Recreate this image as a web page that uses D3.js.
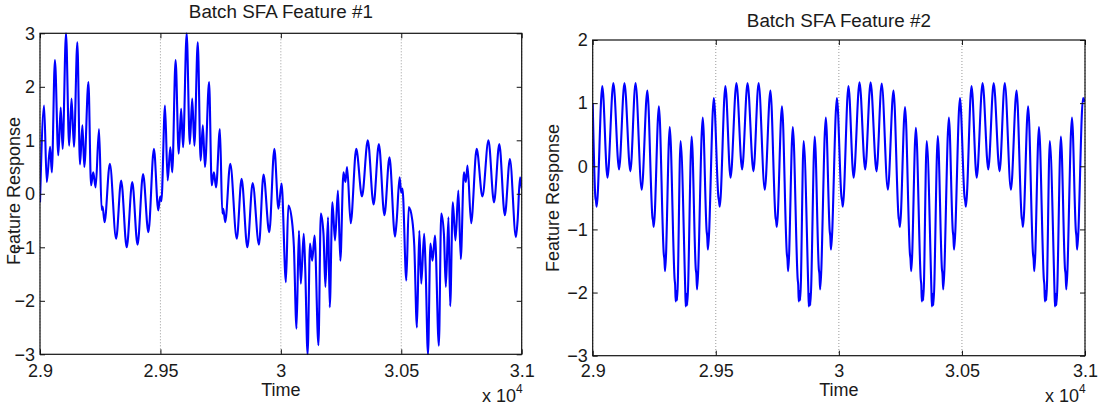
<!DOCTYPE html>
<html>
<head>
<meta charset="utf-8">
<script src="https://cdn.jsdelivr.net/npm/d3@7"></script>
<style>
  body { margin: 0; background: #fff; }
  svg { display: block; }
</style>
</head>
<body>
<svg id="chart" width="1099" height="406"></svg>
<script>
// time axis ticks (raw units, shown as x 10^4)
var timeTicks = [29000, 29500, 30000, 30500, 31000];
var f1Ticks = [-3, -2, -1, 0, 1, 2, 3];
var f2Ticks = [-3, -2, -1, 0, 1, 2];

// Feature #1
var f1Time = [
  29000, 29017, 29028, 29042, 29049, 29062, 29076, 29086, 29094, 29108,
  29121, 29131, 29141, 29155, 29166, 29176, 29184, 29201, 29212, 29221,
  29231, 29245, 29256, 29260, 29268, 29290, 29316, 29337, 29360, 29383,
  29405, 29428, 29450, 29473, 29491, 29499, 29504,
  29519, 29530, 29541, 29549, 29563, 29576, 29586, 29594, 29609, 29622,
  29632, 29641, 29655, 29667, 29676, 29685, 29702, 29713, 29722, 29731,
  29747, 29757, 29761, 29769, 29790, 29817, 29837, 29861, 29883, 29909,
  29928, 29952, 29973, 29990, 30003,
  30021, 30031, 30046, 30054, 30065, 30075, 30083, 30095, 30101, 30111,
  30121, 30130, 30140, 30156, 30166, 30177, 30185, 30196, 30203, 30214,
  30225, 30237, 30247, 30260, 30268, 30275, 30290, 30313, 30337, 30361,
  30385, 30407, 30430, 30451, 30474, 30481, 30493, 30500, 30505,
  30521, 30531, 30546, 30554, 30565, 30575, 30583, 30595, 30601, 30611,
  30621, 30630, 30640, 30656, 30666, 30677, 30685, 30696, 30703, 30714,
  30725, 30737, 30747, 30760, 30768, 30775, 30790, 30813, 30837, 30862,
  30885, 30907, 30930, 30951, 30976, 30983, 30993, 31000
];
var f1Resp = [
  -0.16, 1.65, 0.22, 0.88, 0.40, 2.50, 0.72, 1.61, 0.84, 3.00,
  0.90, 1.78, 0.88, 2.83, 0.55, 1.28, 0.50, 2.09, 0.16, 0.40,
  0.12, 1.21, -0.30, -0.24, -0.53, 0.56, -0.84, 0.25, -1.00, 0.22,
  -0.95, 0.37, -0.72, 0.84, -0.31, -0.05, -0.14,
  1.65, 0.25, 0.87, 0.40, 2.50, 0.75, 1.59, 0.87, 3.00, 0.93,
  1.78, 0.90, 2.83, 0.62, 1.28, 0.50, 2.09, 0.16, 0.40, 0.12,
  1.21, -0.37, -0.28, -0.53, 0.56, -0.84, 0.28, -1.00, 0.20, -0.95,
  0.36, -0.72, 0.84, -0.28, 0.19,
  -1.65, -0.22, -0.50, -0.97, -2.52, -0.69, -1.68, -0.75, -1.37, -3.00,
  -0.93, -1.25, -0.78, -2.83, -0.37, -0.75, -1.74, -0.44, -2.12, -0.16,
  -0.87, 0.06, -1.25, 0.40, 0.22, 0.50, -0.55, 0.84, -0.05, 1.00,
  -0.20, 0.93, -0.40, 0.68, -0.80, -0.50, 0.31, 0.02, 0.10,
  -1.62, -0.25, -0.50, -0.97, -2.50, -0.69, -1.68, -0.75, -1.37, -3.00,
  -0.93, -1.25, -0.78, -2.84, -0.37, -0.75, -1.74, -0.44, -2.10, -0.16,
  -0.87, 0.06, -1.22, 0.40, 0.22, 0.53, -0.55, 0.84, -0.05, 1.00,
  -0.16, 0.93, -0.40, 0.65, -0.81, -0.50, 0.31, 0.10
];

// Feature #2
var f2Time = [
  29000, 29011, 29013, 29016, 29039, 29060, 29084, 29107, 29129, 29153,
  29174, 29199, 29222, 29243, 29245, 29248, 29269, 29289, 29291, 29294,
  29313, 29333, 29335, 29337, 29340, 29343, 29357, 29376, 29378, 29381,
  29384, 29402, 29419, 29421, 29424, 29447, 29463, 29465, 29468, 29492,
  29511, 29513, 29516, 29539, 29560, 29584, 29607, 29629, 29653,
  29674, 29699, 29722, 29743, 29745, 29748, 29769, 29789, 29791, 29794,
  29813, 29833, 29835, 29837, 29840, 29843, 29857, 29876, 29878, 29881,
  29884, 29902, 29919, 29921, 29924, 29947, 29963, 29965, 29968, 29992,
  30011, 30013, 30016, 30039, 30060, 30084, 30107, 30129, 30153,
  30174, 30199, 30222, 30243, 30245, 30248, 30269, 30289, 30291, 30294,
  30313, 30333, 30335, 30337, 30340, 30343, 30357, 30376, 30378, 30381,
  30384, 30402, 30419, 30421, 30424, 30447, 30463, 30465, 30468, 30492,
  30511, 30513, 30516, 30539, 30560, 30584, 30607, 30629, 30653,
  30674, 30699, 30722, 30743, 30745, 30748, 30769, 30789, 30791, 30794,
  30813, 30833, 30835, 30837, 30840, 30843, 30857, 30876, 30878, 30881,
  30884, 30902, 30919, 30921, 30924, 30947, 30963, 30965, 30968, 30992,
  31000
];
var f2Resp = [
  1.00, -0.50, -0.54, -0.64, 1.27, -0.18, 1.32, -0.05, 1.32, -0.08,
  1.32, -0.37, 1.20, -0.82, -0.86, -0.96, 0.95, -1.40, -1.46, -1.66,
  0.62, -1.80, -1.88, -2.14, -1.98, -2.12, 0.40, -1.95, -2.22, -2.02,
  -2.20, 0.47, -1.64, -1.70, -1.95, 0.77, -1.03, -1.10, -1.32, 1.08,
  -0.50, -0.54, -0.64, 1.27, -0.18, 1.32, -0.05, 1.32, -0.08,
  1.32, -0.37, 1.20, -0.82, -0.86, -0.96, 0.95, -1.40, -1.46, -1.66,
  0.62, -1.80, -1.88, -2.14, -1.98, -2.12, 0.40, -1.95, -2.22, -2.02,
  -2.20, 0.47, -1.64, -1.70, -1.95, 0.77, -1.03, -1.10, -1.32, 1.08,
  -0.50, -0.54, -0.64, 1.27, -0.18, 1.33, -0.05, 1.33, -0.08,
  1.31, -0.37, 1.20, -0.82, -0.86, -0.96, 0.94, -1.40, -1.46, -1.66,
  0.61, -1.80, -1.88, -2.14, -1.98, -2.12, 0.40, -1.95, -2.22, -2.02,
  -2.20, 0.48, -1.64, -1.70, -1.95, 0.77, -1.03, -1.10, -1.32, 1.08,
  -0.50, -0.54, -0.64, 1.27, -0.18, 1.32, -0.05, 1.32, -0.08,
  1.32, -0.37, 1.20, -0.82, -0.86, -0.96, 0.95, -1.40, -1.46, -1.66,
  0.62, -1.80, -1.88, -2.14, -1.98, -2.12, 0.40, -1.95, -2.22, -2.02,
  -2.20, 0.47, -1.64, -1.70, -1.95, 0.77, -1.03, -1.10, -1.32, 1.08,
  1.02
];

var FONT = "'Liberation Sans', Arial, Helvetica, sans-serif";
var TEXT = "#1a1a1a";
var FS = 18;

var panels = [
  {
    id: "f1", title: "Batch SFA Feature #1",
    left: 40, top: 33.3, right: 521.7, bottom: 354.3,
    yDomain: [-3, 3], yTicks: f1Ticks,
    time: f1Time, resp: f1Resp,
    titleY: 18, labelX: 20, labelY: 191, expX: 482, xPad: 9.5
  },
  {
    id: "f2", title: "Batch SFA Feature #2",
    left: 592.7, top: 40, right: 1085, bottom: 355.7,
    yDomain: [-3, 2], yTicks: f2Ticks,
    time: f2Time, resp: f2Resp,
    titleY: 26.7, labelX: 559, labelY: 198, expX: 1045, xPad: 8.1
  }
];

var svg = d3.select("#chart");
var fmtX = function(t) { return d3.format("~g")(t / 1e4); };
var fmtY = d3.format("d");

panels.forEach(function(p) {
  var x = d3.scaleLinear().domain([29000, 31000]).range([p.left, p.right]);
  var y = d3.scaleLinear().domain(p.yDomain).range([p.bottom, p.top]);
  var cx = (p.left + p.right) / 2;

  svg.append("clipPath").attr("id", "clip-" + p.id)
    .append("rect")
    .attr("x", p.left).attr("y", p.top - 1)
    .attr("width", p.right - p.left).attr("height", p.bottom - p.top + 2);

  // dotted x grid
  svg.append("g")
    .selectAll("line")
    .data(timeTicks)
    .join("line")
    .attr("x1", function(d) { return x(d); })
    .attr("x2", function(d) { return x(d); })
    .attr("y1", p.top).attr("y2", p.bottom)
    .attr("stroke", "#9a9a9a")
    .attr("stroke-width", 1)
    .attr("stroke-dasharray", "1,2");

  var pts = p.time.map(function(t, i) { return [t, p.resp[i]]; });
  var line = d3.line()
    .x(function(d) { return x(d[0]); })
    .y(function(d) { return y(d[1]); })
    .curve(d3.curveMonotoneX);

  svg.append("path")
    .datum(pts)
    .attr("clip-path", "url(#clip-" + p.id + ")")
    .attr("d", line)
    .attr("fill", "none")
    .attr("stroke", "#0000ff")
    .attr("stroke-width", 2.1)
    .attr("stroke-linejoin", "round");

  // axes, ticks pointing inward
  var gB = svg.append("g").attr("transform", "translate(0," + p.bottom + ")")
    .call(d3.axisBottom(x).tickValues(timeTicks).tickSize(-5).tickPadding(p.xPad).tickFormat(fmtX));
  var gL = svg.append("g").attr("transform", "translate(" + p.left + ",0)")
    .call(d3.axisLeft(y).tickValues(p.yTicks).tickSize(-5).tickPadding(5).tickFormat(fmtY));
  var gT = svg.append("g").attr("transform", "translate(0," + p.top + ")")
    .call(d3.axisTop(x).tickValues(timeTicks).tickSize(-5).tickFormat(""));
  var gR = svg.append("g").attr("transform", "translate(" + p.right + ",0)")
    .call(d3.axisRight(y).tickValues(p.yTicks).tickSize(-5).tickFormat(""));

  [gB, gL, gT, gR].forEach(function(g) {
    g.select(".domain").remove();
    g.selectAll(".tick line").attr("stroke", "#111");
    g.attr("font-size", FS).attr("font-family", FONT);
    g.selectAll(".tick text").attr("fill", TEXT);
  });

  svg.append("rect")
    .attr("x", p.left).attr("y", p.top)
    .attr("width", p.right - p.left).attr("height", p.bottom - p.top)
    .attr("fill", "none").attr("stroke", "#111").attr("stroke-width", 1.2);

  svg.append("text")
    .attr("x", cx).attr("y", p.titleY)
    .attr("text-anchor", "middle")
    .attr("font-family", FONT).attr("font-size", FS).attr("fill", TEXT)
    .attr("textLength", 184).attr("lengthAdjust", "spacingAndGlyphs")
    .text(p.title);

  svg.append("text")
    .attr("x", cx).attr("y", 395.5)
    .attr("text-anchor", "middle")
    .attr("font-family", FONT).attr("font-size", FS).attr("fill", TEXT)
    .text("Time");

  svg.append("text")
    .attr("transform", "translate(" + p.labelX + "," + p.labelY + ") rotate(-90)")
    .attr("text-anchor", "middle")
    .attr("font-family", FONT).attr("font-size", FS).attr("fill", TEXT)
    .text("Feature Response");

  var ex = svg.append("text")
    .attr("x", p.expX).attr("y", 401.5)
    .attr("font-family", FONT).attr("font-size", FS).attr("fill", TEXT);
  ex.append("tspan").text("x 10");
  ex.append("tspan").attr("dy", -9).attr("font-size", 12).text("4");
});
</script>
</body>
</html>
